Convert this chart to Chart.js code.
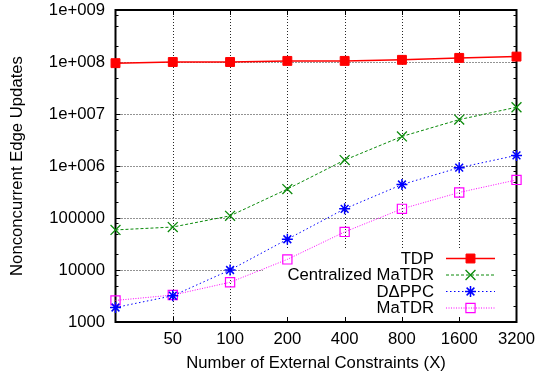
<!DOCTYPE html>
<html>
<head>
<meta charset="utf-8">
<script src="https://cdn.jsdelivr.net/npm/chart.js@4/dist/chart.umd.min.js"></script>
<style>
html,body{margin:0;padding:0;background:#fff;}
#wrap{width:536px;height:379px;position:relative;}
</style>
</head>
<body>
<div id="wrap"><canvas id="c" width="536" height="379"></canvas></div>
<script>
const categories = ['', '50', '100', '200', '400', '800', '1600', '3200'];
const tdp         = [9.5e7, 1.0e8, 1.0e8, 1.05e8, 1.05e8, 1.1e8, 1.2e8, 1.27e8];
const centralized = [5.9e4, 6.7e4, 1.1e5, 3.6e5, 1.3e6, 3.7e6, 7.8e6, 1.35e7];
const dppc        = [1.9e3, 3.2e3, 1.0e4, 3.9e4, 1.5e5, 4.4e5, 9.3e5, 1.6e6];
const matdr       = [2.6e3, 3.3e3, 5.8e3, 1.6e4, 5.4e4, 1.5e5, 3.1e5, 5.4e5];
const yTickValues = [1e3, 1e4, 1e5, 1e6, 1e7, 1e8, 1e9];
const yTickLabels = ['1000', '10000', '100000', '1e+006', '1e+007', '1e+008', '1e+009'];
const seriesNames = ['TDP', 'Centralized MaTDR', 'D\u0394PPC', 'MaTDR'];

const FONT = '"Liberation Sans", Arial, Helvetica, sans-serif';
const FS = 16.7;

function zeroPad(s) { s.paddingTop = 0; s.paddingBottom = 0; s.paddingLeft = 0; s.paddingRight = 0; }

const gnuplotFrame = {
  id: 'gnuplotFrame',
  beforeDatasetsDraw(chart) {
    const {ctx, chartArea: a, scales: {x, y}} = chart;
    ctx.save();
    ctx.strokeStyle = 'rgba(0,0,0,0.85)';
    ctx.lineWidth = 1;
    ctx.setLineDash([1, 2]);
    for (let i = 1; i < yTickValues.length - 1; i++) {
      const py = Math.round(y.getPixelForValue(yTickValues[i])) + 0.5;
      ctx.beginPath(); ctx.moveTo(a.left, py); ctx.lineTo(a.right, py); ctx.stroke();
    }
    for (let i = 1; i < categories.length - 1; i++) {
      const px = Math.round(x.getPixelForValue(i)) + 0.5;
      ctx.beginPath(); ctx.moveTo(px, a.top); ctx.lineTo(px, a.bottom); ctx.stroke();
    }
    ctx.setLineDash([]);
    ctx.fillStyle = '#fff';
    ctx.fillRect(263, 249, a.right - 263, a.bottom - 249);
    ctx.strokeStyle = '#000';
    ctx.lineWidth = 1;
    const minors = [2, 5, 8];
    for (let d = 0; d < yTickValues.length; d++) {
      const base = yTickValues[d];
      const py = Math.round(y.getPixelForValue(base)) + 0.5;
      ctx.beginPath();
      ctx.moveTo(a.left, py); ctx.lineTo(a.left + 5, py);
      ctx.moveTo(a.right, py); ctx.lineTo(a.right - 5, py);
      ctx.stroke();
      if (d < yTickValues.length - 1) {
        for (const m of minors) {
          const pm = Math.round(y.getPixelForValue(base * m)) + 0.5;
          ctx.beginPath();
          ctx.moveTo(a.left, pm); ctx.lineTo(a.left + 3, pm);
          ctx.moveTo(a.right, pm); ctx.lineTo(a.right - 3, pm);
          ctx.stroke();
        }
      }
    }
    for (let i = 1; i < categories.length - 1; i++) {
      const px = Math.round(x.getPixelForValue(i)) + 0.5;
      ctx.beginPath();
      ctx.moveTo(px, a.bottom); ctx.lineTo(px, a.bottom - 5);
      ctx.moveTo(px, a.top); ctx.lineTo(px, a.top + 5);
      ctx.stroke();
    }
    ctx.lineWidth = 2;
    ctx.strokeRect(a.left, a.top, a.right - a.left, a.bottom - a.top);
    ctx.restore();
  },
  afterDatasetsDraw(chart) {
    const {ctx} = chart;
    ctx.save();
    const rows = [258, 274.5, 291, 307.5];
    ctx.font = FS + 'px ' + FONT;
    ctx.textAlign = 'right';
    ctx.textBaseline = 'middle';
    chart.data.datasets.forEach((ds, i) => {
      const yy = rows[i];
      ctx.fillStyle = '#000';
      ctx.fillText(ds.label, 434, yy + 1);
      ctx.strokeStyle = ds.borderColor;
      ctx.lineWidth = ds.borderWidth;
      ctx.setLineDash(ds.borderDash || []);
      ctx.beginPath(); ctx.moveTo(446, yy + 0.5); ctx.lineTo(495, yy + 0.5); ctx.stroke();
      ctx.setLineDash([]);
      ctx.fillStyle = ds.pointBackgroundColor;
      ctx.strokeStyle = ds.pointBorderColor;
      ctx.lineWidth = ds.pointBorderWidth;
      Chart.helpers.drawPoint(ctx, {pointStyle: ds.pointStyle, radius: ds.pointRadius, rotation: 0, borderWidth: ds.pointBorderWidth}, 470.5, yy + 0.5);
    });
    ctx.restore();
  }
};

const datasets = [
  {label: seriesNames[0], data: tdp, borderColor: '#ff0000', borderWidth: 1.5, borderDash: [],
   pointStyle: 'rect', pointRadius: 6.3, pointBackgroundColor: '#ff0000', pointBorderColor: '#ff0000', pointBorderWidth: 1},
  {label: seriesNames[1], data: centralized, borderColor: '#0a8a0a', borderWidth: 1, borderDash: [3, 2],
   pointStyle: 'crossRot', pointRadius: 7, pointBackgroundColor: '#0a8a0a', pointBorderColor: '#0a8a0a', pointBorderWidth: 1.3},
  {label: seriesNames[2], data: dppc, borderColor: '#0000ff', borderWidth: 1, borderDash: [1.5, 2.5],
   pointStyle: 'star', pointRadius: 5.5, pointBackgroundColor: '#0000ff', pointBorderColor: '#0000ff', pointBorderWidth: 1.5},
  {label: seriesNames[3], data: matdr, borderColor: '#ff00ff', borderWidth: 1, borderDash: [1, 1.5],
   pointStyle: 'rect', pointRadius: 6.5, pointBackgroundColor: 'rgba(0,0,0,0)', pointBorderColor: '#ff00ff', pointBorderWidth: 1.2}
].map(d => Object.assign(d, {fill: false, tension: 0, clip: false, pointHoverRadius: d.pointRadius}));

new Chart(document.getElementById('c'), {
  type: 'line',
  data: {labels: categories, datasets},
  plugins: [gnuplotFrame],
  options: {
    responsive: false,
    animation: false,
    devicePixelRatio: 1,
    layout: {padding: {top: 10, right: 19.5, bottom: 0, left: 0}},
    plugins: {legend: {display: false}, tooltip: {enabled: false}},
    scales: {
      x: {
        type: 'category',
        offset: false,
        grid: {display: false, drawTicks: false},
        border: {display: false},
        ticks: {color: '#000', font: {family: FONT, size: FS}, padding: 7, maxRotation: 0, autoSkip: false},
        title: {display: true, text: 'Number of External Constraints (X)', color: '#000',
                font: {family: FONT, size: FS}, padding: {top: 0, bottom: 6}},
        afterFit(s) { s.height = 57; zeroPad(s); }
      },
      y: {
        type: 'logarithmic',
        min: 1000, max: 1e9,
        grid: {display: false, drawTicks: false},
        border: {display: false},
        afterBuildTicks(s) { s.ticks = yTickValues.map(v => ({value: v, major: true})); },
        ticks: {
          color: '#000', font: {family: FONT, size: FS}, padding: 10.5, autoSkip: false,
          callback(v) { const i = yTickValues.indexOf(v); return i >= 0 ? yTickLabels[i] : ''; }
        },
        title: {display: true, text: 'Nonconcurrent Edge Updates', color: '#000',
                font: {family: FONT, size: FS}, padding: {top: 7, bottom: 0}},
        afterFit(s) { s.width = 115.5; zeroPad(s); }
      }
    }
  }
});
</script>
</body>
</html>
